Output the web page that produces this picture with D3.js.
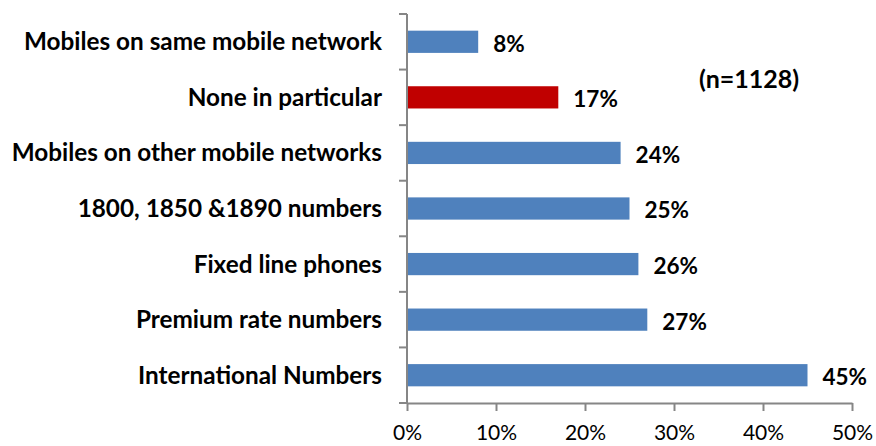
<!DOCTYPE html>
<html>
<head>
<meta charset="utf-8">
<script src="https://cdn.jsdelivr.net/npm/d3@7"></script>
<style>
  html, body { margin: 0; padding: 0; background: #fff; }
  svg { display: block; }
  text { font-family: Lato, "Open Sans", "DejaVu Sans", sans-serif; }
</style>
</head>
<body>
<svg id="chart" width="876" height="446"></svg>
<script>
// Call types, top to bottom
const categories = [
  "Mobiles on same mobile network",
  "None in particular",
  "Mobiles on other mobile networks",
  "1800, 1850 &1890 numbers",
  "Fixed line phones",
  "Premium rate numbers",
  "International Numbers"
];
// Share of respondents (%)
const values = [8, 17, 24, 25, 26, 27, 45];
const highlighted = ["None in particular"];
const xTicks = [0, 10, 20, 30, 40, 50];
const sampleNote = "(n=1128)";

const svg = d3.select("#chart");
const margin = { left: 407, right: 24, top: 14, bottom: 43 };
const W = 876, H = 446;

const x = d3.scaleLinear().domain([0, 50]).range([margin.left, W - margin.right]);
const y = d3.scaleBand().domain(categories).range([margin.top, H - margin.bottom]).paddingInner(0.6).paddingOuter(0.3);

const axisColor = "#868686";

// bars
svg.append("g").selectAll("rect")
  .data(categories)
  .join("rect")
  .attr("x", x(0))
  .attr("y", d => y(d))
  .attr("width", (d, i) => x(values[i]) - x(0))
  .attr("height", y.bandwidth())
  .attr("fill", d => highlighted.includes(d) ? "#C00000" : "#4F81BD");

// value labels
svg.append("g").selectAll("text")
  .data(categories)
  .join("text")
  .attr("x", (d, i) => x(values[i]) + 15)
  .attr("y", d => y(d) + y.bandwidth() / 2 + 2)
  .attr("dy", "0.35em")
  .attr("font-size", 22.5)
  .attr("font-weight", "bold")
  .attr("fill", "#000")
  .text((d, i) => values[i] + "%");

// y axis: vertical line with category boundary ticks
const yAxisG = svg.append("g");
yAxisG.append("line")
  .attr("x1", x(0)).attr("x2", x(0))
  .attr("y1", margin.top).attr("y2", H - margin.bottom)
  .attr("stroke", axisColor).attr("stroke-width", 2);
const bounds = d3.range(categories.length + 1).map(i => margin.top + i * (H - margin.top - margin.bottom) / categories.length);
yAxisG.selectAll("line.tick")
  .data(bounds)
  .join("line")
  .attr("class", "tick")
  .attr("x1", x(0) - 8).attr("x2", x(0))
  .attr("y1", d => d).attr("y2", d => d)
  .attr("stroke", axisColor).attr("stroke-width", 2);

// category labels
svg.append("g").selectAll("text")
  .data(categories)
  .join("text")
  .attr("x", x(0) - 25)
  .attr("y", d => y(d) + y.bandwidth() / 2)
  .attr("dy", "0.35em")
  .attr("text-anchor", "end")
  .attr("font-size", 24.3)
  .attr("font-weight", "bold")
  .attr("fill", "#000")
  .text(d => d);

// x axis
const xAxis = d3.axisBottom(x)
  .tickValues(xTicks)
  .tickFormat(d => d + "%")
  .tickSize(8)
  .tickSizeOuter(0);
const xg = svg.append("g")
  .attr("transform", `translate(0,${H - margin.bottom})`)
  .call(xAxis);
xg.select(".domain").attr("stroke", axisColor).attr("stroke-width", 2);
xg.selectAll(".tick line").attr("stroke", axisColor).attr("stroke-width", 2);
xg.selectAll(".tick text")
  .attr("y", 37)
  .attr("dy", 0)
  .attr("font-size", 21)
  .attr("font-family", "Lato, 'Open Sans', sans-serif")
  .attr("fill", "#000");

// sample size note
svg.append("text")
  .attr("x", 749)
  .attr("y", 79)
  .attr("dy", "0.35em")
  .attr("text-anchor", "middle")
  .attr("font-size", 25)
  .attr("font-weight", "bold")
  .attr("fill", "#000")
  .text(sampleNote);
</script>
</body>
</html>
